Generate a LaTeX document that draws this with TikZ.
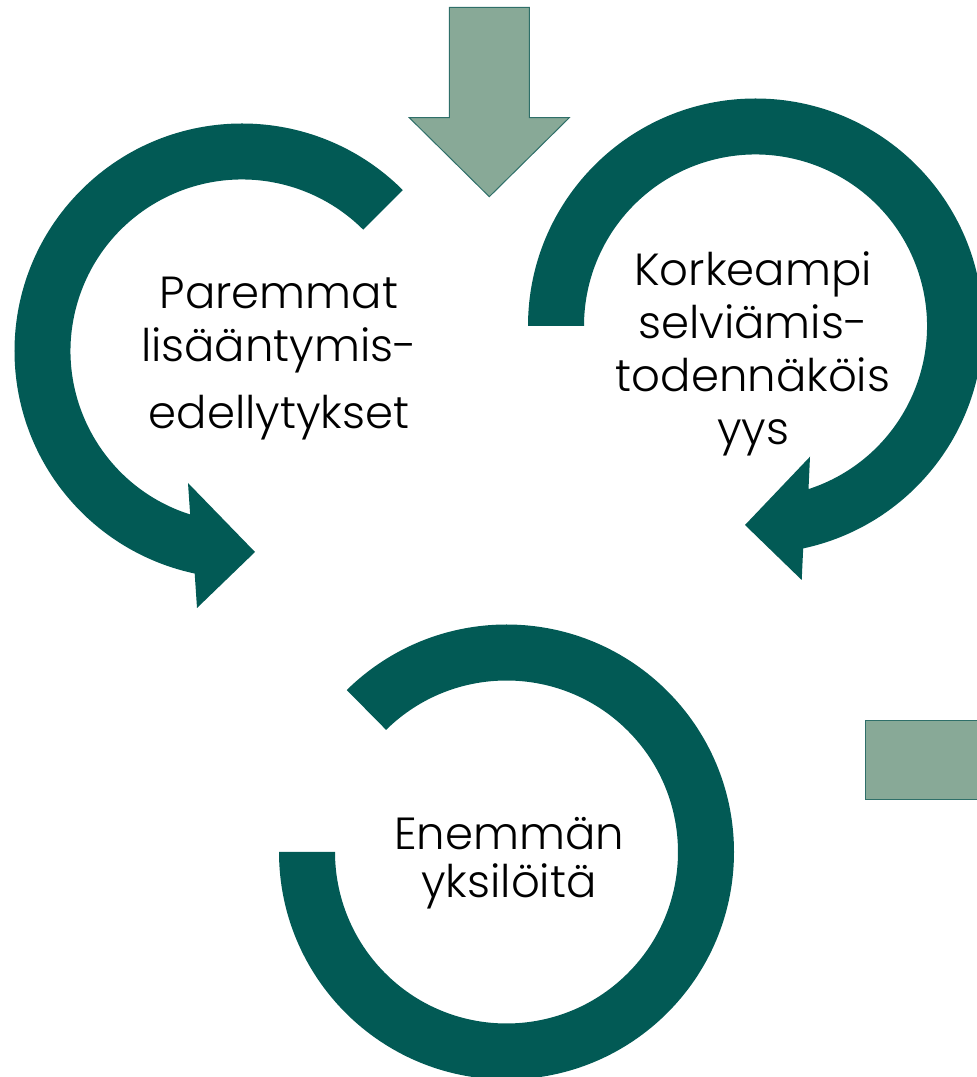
\documentclass[tikz,border=0pt]{standalone}
\usepackage{fontspec}
\setmainfont{Poppins Light}
\usetikzlibrary{calc}
\definecolor{ringteal}{HTML}{025A55}
\definecolor{sage}{HTML}{88A997}
\definecolor{sageedge}{HTML}{2F6F69}
\tikzset{
  ring/.style={fill=ringteal, draw=none},
  sagebox/.style={fill=sage, draw=sageedge, line width=1pt},
  cycletext/.style={align=center, inner sep=0pt, font=\fontsize{45}{53}\selectfont}
}
\begin{document}
\begin{tikzpicture}[x=1pt, y=1pt]
    \useasboundingbox (0,0) rectangle (977,1077);
    \clip (0,0) rectangle (977,1077);

    % Ring centres
    \coordinate (cl) at (242,726);
    \coordinate (cr) at (755.5,751);
    \coordinate (cb) at (506.5,225);

    % Left ring (arrow head pointing right)
    \fill[ring] ($(cl)+(45:227.5pt)$) arc[start angle=45, end angle=258, radius=227.5pt]
        -- (197,469) -- (255,525) -- (188,594)
        -- ($(cl)+(252.4:171.5pt)$) arc[start angle=252.4, end angle=45, radius=171.5pt] -- cycle;

    % Right ring (arrow head pointing left)
    \fill[ring] ($(cr)+(180:227.5pt)$) arc[start angle=180, end angle=-77.9, radius=227.5pt]
        -- (801.7,497) -- (745,552) -- (810,620.3)
        -- ($(cr)+(-72:171.5pt)$) arc[start angle=-72, end angle=180, radius=171.5pt] -- cycle;

    % Bottom ring (no head)
    \fill[ring] ($(cb)+(180:227.5pt)$) arc[start angle=180, end angle=494.6, radius=227.5pt]
        -- ($(cb)+(494.6:171.5pt)$) arc[start angle=494.6, end angle=180, radius=171.5pt] -- cycle;

    % Incoming arrow and box
    \draw[sagebox] (449.3,1069.7) -- (529.3,1069.7) -- (529.3,959.3) -- (569.3,959.3)
        -- (489.3,880.3) -- (409.3,959.3) -- (449.3,959.3) -- cycle;
    \draw[sagebox] (865.7,277.7) rectangle (990,356.3);

    % Texts
    \node[cycletext] (better) at (279,718) {Paremmat\\lisääntymis-\\[14pt]edellytykset};
    \node[cycletext] (survival) at (753,723.5) {Korkeampi\\selviämis-\\todennäköis\\yys};
    \node[cycletext] (more) at (509,214) {Enemmän\\[-5pt]yksilöitä};
\end{tikzpicture}
\end{document}
